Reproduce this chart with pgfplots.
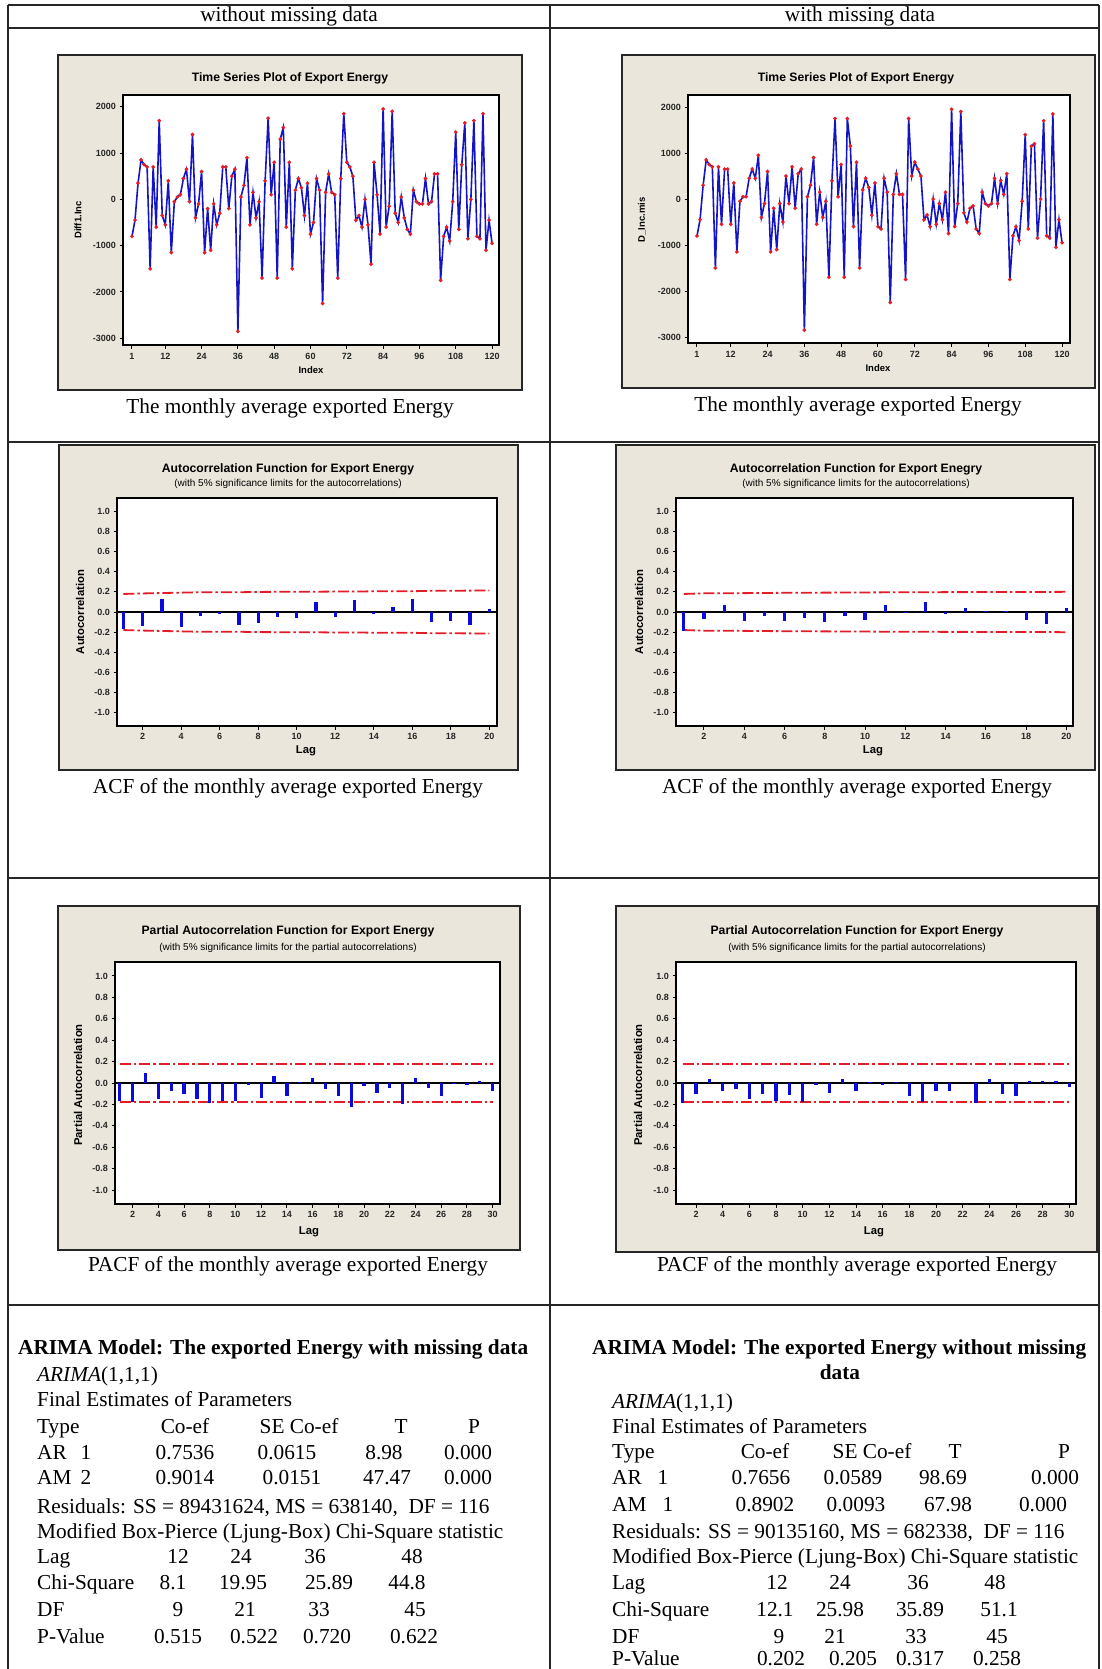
\documentclass[border=0pt]{standalone}
\usepackage{pgfplots}
\pgfplotsset{compat=1.18}
\usepackage{fontspec}
\setmainfont{Liberation Serif}
\newfontfamily\chartfont{Liberation Sans}
\definecolor{mtbbg}{RGB}{234,230,219}
\definecolor{mtbblue}{RGB}{20,20,195}
\definecolor{mtbred}{RGB}{228,28,38}
\definecolor{barblue}{RGB}{10,10,220}
\newcommand{\tf}{\fontsize{21.3}{25}\selectfont}
\newcommand{\ttl}{\chartfont\bfseries\fontsize{12.2}{14}\selectfont}
\newcommand{\sttl}{\chartfont\fontsize{10}{12}\selectfont}
\newcommand{\lbl}{\chartfont\bfseries\fontsize{11.3}{13}\selectfont}
\newcommand{\tslbl}{\chartfont\bfseries\fontsize{9.5}{11}\selectfont}
\pgfplotsset{
  mtb/.style={
    scale only axis,
    axis background/.style={fill=white},
    axis line style={line width=1.4pt, black},
    tick align=outside,
    tick pos=left,
    major tick length=3.5pt,
    every tick/.style={black, line width=1pt},
    ticklabel style={font=\chartfont\bfseries\fontsize{9}{10}\selectfont, text=black!85},
    /pgf/number format/assume math mode=true,
    /pgf/number format/1000 sep={},
    scaled ticks=false,
  },
  ts/.style={mtb,
    xtick={1,12,24,36,48,60,72,84,96,108,120},
    ytick={-3000,-2000,-1000,0,1000,2000},
    xticklabel style={yshift=-1pt},
  },
  acf/.style={mtb,
    ymin=-1.13, ymax=1.13,
    ytick={-1,-0.8,-0.6,-0.4,-0.2,0,0.2,0.4,0.6,0.8,1},
    yticklabel style={/pgf/number format/.cd, fixed, fixed zerofill, precision=1},
  },
  tsline/.style={mtbblue, line width=1.6pt, mark=*, mark size=1.8pt, mark options={fill=mtbred, draw=mtbred, line width=0.2pt}},
  bars/.style={barblue, ycomb, line width=3.2pt, mark=none},
  lim/.style={mtbred, line width=1.8pt, dash pattern=on 11pt off 3pt on 2.5pt off 3pt, mark=none},
  zero/.style={black, line width=1.3pt, mark=none},
}
\begin{document}
\begin{tikzpicture}
\useasboundingbox (0,0) rectangle (1101pt,-1669pt);
\fill[white] (0,0) rectangle (1101pt,-1669pt);
% table grid
\begin{scope}[line width=1.3pt, black!85]
\draw (8pt,-5pt) -- (1099pt,-5pt);
\draw (8pt,-28pt) -- (1099pt,-28pt);
\draw (8pt,-442pt) -- (1099pt,-442pt);
\draw (8pt,-878pt) -- (1099pt,-878pt);
\draw (8pt,-1305pt) -- (1099pt,-1305pt);
\draw (8pt,-5pt) -- (8pt,-1669pt);
\draw (550pt,-5pt) -- (550pt,-1669pt);
\draw (1099pt,-5pt) -- (1099pt,-1669pt);
\end{scope}
\node[anchor=base, inner sep=0, font=\tf] at (289pt,-22pt) {without missing data};
\node[anchor=base, inner sep=0, font=\tf] at (860pt,-22pt) {with missing data};

% chart frames
\begin{scope}[fill=mtbbg, draw=black!85, line width=1.8pt]
\filldraw (58pt,-55pt) rectangle (522pt,-390pt);
\filldraw (622pt,-55pt) rectangle (1095pt,-388pt);
\filldraw (59pt,-445pt) rectangle (518pt,-770pt);
\filldraw (616pt,-445pt) rectangle (1095pt,-770pt);
\filldraw (58pt,-906pt) rectangle (520pt,-1250pt);
\filldraw (616pt,-906pt) rectangle (1097pt,-1252pt);
\end{scope}

% ---------- Time series, without missing data ----------
\begin{axis}[ts, at={(123pt,-345pt)}, anchor=south west, width=376pt, height=250pt,
  xmin=-1.97, xmax=122.3, ymin=-3145, ymax=2253]
\addplot[tsline] coordinates {
(1,-800) (2,-450) (3,350) (4,850) (5,750) (6,700) (7,-1500) (8,700) (9,-600) (10,1700)
(11,-350) (12,-550) (13,400) (14,-1150) (15,-50) (16,50) (17,100) (18,450) (19,650) (20,-50)
(21,1400) (22,-400) (23,-100) (24,600) (25,-1150) (26,-200) (27,-1100) (28,-100) (29,-550) (30,-300)
(31,700) (32,700) (33,-200) (34,500) (35,650) (36,-2850) (37,50) (38,300) (39,900) (40,-550)
(41,150) (42,-400) (43,-50) (44,-1700) (45,400) (46,1750) (47,100) (48,800) (49,-1700) (50,1300)
(51,1550) (52,-600) (53,800) (54,-1500) (55,200) (56,450) (57,250) (58,-350) (59,350) (60,-750)
(61,-500) (62,450) (63,200) (64,-2250) (65,150) (66,550) (67,150) (68,100) (69,-1700) (70,450)
(71,1850) (72,800) (73,700) (74,500) (75,-450) (76,-350) (77,-600) (78,0) (79,-550) (80,-1400)
(81,800) (82,100) (83,-750) (84,1950) (85,-600) (86,-150) (87,1900) (88,-300) (89,-500) (90,50)
(91,-400) (92,-650) (93,-750) (94,200) (95,-50) (96,-100) (97,-100) (98,450) (99,-100) (100,-50)
(101,550) (102,550) (103,-1750) (104,-800) (105,-600) (106,-900) (107,-50) (108,1450) (109,-650) (110,750)
(111,1650) (112,-850) (113,0) (114,1700) (115,-800) (116,-850) (117,1850) (118,-1100) (119,-450) (120,-950)
};
\end{axis}
\node[font=\ttl] at (290pt,-78pt) {Time Series Plot of Export Energy};
\node[font=\tslbl, rotate=90] at (78pt,-220pt) {Diff1.Inc};
\node[font=\tslbl] at (311pt,-370pt) {Index};
\node[anchor=base, inner sep=0, font=\tf] at (290pt,-413pt) {The monthly average exported Energy};

% ---------- Time series, with missing data ----------
\begin{axis}[ts, at={(688pt,-343pt)}, anchor=south west, width=382pt, height=248pt,
  xmin=-1.93, xmax=122.6, ymin=-3130, ymax=2261]
\addplot[tsline] coordinates {
(1,-800) (2,-450) (3,300) (4,850) (5,750) (6,700) (7,-1500) (8,700) (9,-550) (10,650)
(11,650) (12,-550) (13,350) (14,-1150) (15,-50) (16,50) (17,50) (18,450) (19,650) (20,450)
(21,950) (22,-400) (23,-100) (24,600) (25,-1150) (26,-200) (27,-1100) (28,-100) (29,-500) (30,500)
(31,-100) (32,700) (33,-200) (34,550) (35,650) (36,-2850) (37,50) (38,300) (39,900) (40,-550)
(41,150) (42,-400) (43,-50) (44,-1700) (45,400) (46,1750) (47,50) (48,750) (49,-1700) (50,1750)
(51,1150) (52,-600) (53,800) (54,-1500) (55,200) (56,450) (57,250) (58,-350) (59,350) (60,-600)
(61,-650) (62,450) (63,150) (64,-2250) (65,100) (66,550) (67,100) (68,100) (69,-1750) (70,1750)
(71,500) (72,800) (73,650) (74,500) (75,-450) (76,-350) (77,-600) (78,0) (79,-550) (80,-100)
(81,-450) (82,150) (83,-750) (84,1950) (85,-600) (86,-100) (87,1900) (88,-300) (89,-500) (90,-200)
(91,-150) (92,-650) (93,-750) (94,150) (95,-100) (96,-150) (97,-100) (98,450) (99,-100) (100,400)
(101,100) (102,550) (103,-1750) (104,-800) (105,-600) (106,-900) (107,-50) (108,1400) (109,-650) (110,1150)
(111,1200) (112,-850) (113,0) (114,1700) (115,-800) (116,-850) (117,1850) (118,-1050) (119,-450) (120,-950)
};
\end{axis}
\node[font=\ttl] at (856pt,-78pt) {Time Series Plot of Export Energy};
\node[font=\tslbl, rotate=90] at (642pt,-220pt) {D\_Inc.mis};
\node[font=\tslbl] at (878pt,-368pt) {Index};
\node[anchor=base, inner sep=0, font=\tf] at (858pt,-411pt) {The monthly average exported Energy};

% ---------- ACF, without missing data ----------
\begin{axis}[acf, at={(117pt,-726pt)}, anchor=south west, width=380pt, height=228pt,
  xmin=0.667, xmax=20.4, xtick={2,4,...,20}]
\addplot[zero] coordinates {(0.667,0) (20.4,0)};
\addplot[lim] coordinates {(1,0.179) (2,0.184) (3,0.188) (4,0.192) (5,0.196) (6,0.196) (7,0.196) (8,0.199) (9,0.200) (10,0.200) (11,0.201) (12,0.203) (13,0.203) (14,0.205) (15,0.205) (16,0.206) (17,0.210) (18,0.211) (19,0.212) (20,0.214)};
\addplot[lim] coordinates {(1,-0.179) (2,-0.184) (3,-0.188) (4,-0.192) (5,-0.196) (6,-0.196) (7,-0.196) (8,-0.199) (9,-0.200) (10,-0.200) (11,-0.201) (12,-0.203) (13,-0.203) (14,-0.205) (15,-0.205) (16,-0.206) (17,-0.210) (18,-0.211) (19,-0.212) (20,-0.214)};
\addplot[bars] coordinates {(1,-0.17) (2,-0.14) (3,0.13) (4,-0.15) (5,-0.04) (6,-0.02) (7,-0.13) (8,-0.11) (9,-0.05) (10,-0.06) (11,0.10) (12,-0.05) (13,0.12) (14,-0.02) (15,0.05) (16,0.13) (17,-0.10) (18,-0.09) (19,-0.13) (20,0.03)};
\end{axis}
\node[font=\ttl] at (288pt,-469pt) {Autocorrelation Function for Export Energy};
\node[font=\sttl] at (288pt,-484pt) {(with 5\% significance limits for the autocorrelations)};
\node[font=\lbl, rotate=90] at (80pt,-612pt) {Autocorrelation};
\node[font=\lbl] at (306pt,-751pt) {Lag};
\node[anchor=base, inner sep=0, font=\tf] at (288pt,-793pt) {ACF of the monthly average exported Energy};

% ---------- ACF, with missing data ----------
\begin{axis}[acf, at={(676pt,-726pt)}, anchor=south west, width=397pt, height=228pt,
  xmin=0.61, xmax=20.33, xtick={2,4,...,20}]
\addplot[zero] coordinates {(0.61,0) (20.33,0)};
\addplot[lim] coordinates {(1,0.179) (2,0.185) (3,0.186) (4,0.187) (5,0.189) (6,0.190) (7,0.191) (8,0.192) (9,0.193) (10,0.194) (11,0.195) (12,0.196) (13,0.196) (14,0.197) (15,0.197) (16,0.198) (17,0.198) (18,0.198) (19,0.199) (20,0.200)};
\addplot[lim] coordinates {(1,-0.179) (2,-0.185) (3,-0.186) (4,-0.187) (5,-0.189) (6,-0.190) (7,-0.191) (8,-0.192) (9,-0.193) (10,-0.194) (11,-0.195) (12,-0.196) (13,-0.196) (14,-0.197) (15,-0.197) (16,-0.198) (17,-0.198) (18,-0.198) (19,-0.199) (20,-0.200)};
\addplot[bars] coordinates {(1,-0.19) (2,-0.07) (3,0.07) (4,-0.09) (5,-0.04) (6,-0.09) (7,-0.06) (8,-0.10) (9,-0.04) (10,-0.08) (11,0.07) (12,-0.01) (13,0.10) (14,-0.02) (15,0.04) (16,0.01) (17,0.01) (18,-0.08) (19,-0.12) (20,0.04)};
\end{axis}
\node[font=\ttl] at (856pt,-469pt) {Autocorrelation Function for Export Enegry};
\node[font=\sttl] at (856pt,-484pt) {(with 5\% significance limits for the autocorrelations)};
\node[font=\lbl, rotate=90] at (639pt,-612pt) {Autocorrelation};
\node[font=\lbl] at (873pt,-751pt) {Lag};
\node[anchor=base, inner sep=0, font=\tf] at (857pt,-793pt) {ACF of the monthly average exported Energy};

% ---------- PACF, without missing data ----------
\begin{axis}[acf, at={(115pt,-1204pt)}, anchor=south west, width=385pt, height=242pt,
  xmin=0.63, xmax=30.57, xtick={2,4,...,30}]
\addplot[zero] coordinates {(0.63,0) (30.57,0)};
\addplot[lim] coordinates {(1,0.179) (30,0.179)};
\addplot[lim] coordinates {(1,-0.179) (30,-0.179)};
\addplot[bars] coordinates {(1,-0.17) (2,-0.18) (3,0.09) (4,-0.15) (5,-0.07) (6,-0.10) (7,-0.15) (8,-0.19) (9,-0.17) (10,-0.17) (11,-0.02) (12,-0.14) (13,0.07) (14,-0.12) (15,0.01) (16,0.05) (17,-0.06) (18,-0.12) (19,-0.22) (20,-0.03) (21,-0.09) (22,-0.05) (23,-0.20) (24,0.05) (25,-0.05) (26,-0.12) (27,-0.01) (28,-0.02) (29,0.02) (30,-0.07)};
\end{axis}
\node[font=\ttl] at (288pt,-931pt) {Partial Autocorrelation Function for Export Energy};
\node[font=\sttl] at (288pt,-948pt) {(with 5\% significance limits for the partial autocorrelations)};
\node[font=\lbl, rotate=90] at (78pt,-1085pt) {Partial Autocorrelation};
\node[font=\lbl] at (309pt,-1232pt) {Lag};
\node[anchor=base, inner sep=0, font=\tf] at (288pt,-1271pt) {PACF of the monthly average exported Energy};

% ---------- PACF, with missing data ----------
\begin{axis}[acf, at={(676pt,-1204pt)}, anchor=south west, width=400pt, height=242pt,
  xmin=0.5, xmax=30.5, xtick={2,4,...,30}]
\addplot[zero] coordinates {(0.5,0) (30.5,0)};
\addplot[lim] coordinates {(1,0.179) (30,0.179)};
\addplot[lim] coordinates {(1,-0.179) (30,-0.179)};
\addplot[bars] coordinates {(1,-0.19) (2,-0.10) (3,0.04) (4,-0.07) (5,-0.06) (6,-0.15) (7,-0.10) (8,-0.17) (9,-0.11) (10,-0.18) (11,-0.02) (12,-0.09) (13,0.04) (14,-0.07) (15,0.01) (16,-0.02) (17,0.01) (18,-0.12) (19,-0.18) (20,-0.07) (21,-0.07) (22,0.00) (23,-0.19) (24,0.04) (25,-0.10) (26,-0.12) (27,0.02) (28,0.02) (29,0.02) (30,-0.04)};
\end{axis}
\node[font=\ttl] at (857pt,-931pt) {Partial Autocorrelation Function for Export Energy};
\node[font=\sttl] at (857pt,-948pt) {(with 5\% significance limits for the partial autocorrelations)};
\node[font=\lbl, rotate=90] at (638pt,-1085pt) {Partial Autocorrelation};
\node[font=\lbl] at (874pt,-1232pt) {Lag};
\node[anchor=base, inner sep=0, font=\tf] at (857pt,-1271pt) {PACF of the monthly average exported Energy};

% ---------- ARIMA text, left ----------
\begin{scope}[every node/.style={inner sep=0, font=\tf}]
\node[anchor=base west, font=\tf\bfseries] at (18pt,-1354pt) {ARIMA Model: The exported Energy with missing data};
\node[anchor=base west] at (37pt,-1381pt) {\itshape ARIMA\upshape(1,1,1)};
\node[anchor=base west] at (37pt,-1406pt) {Final Estimates of Parameters};
\node[anchor=base west] at (37pt,-1433pt) {Type};
\node[anchor=base] at (185pt,-1433pt) {Co-ef};
\node[anchor=base] at (299pt,-1433pt) {SE Co-ef};
\node[anchor=base] at (401pt,-1433pt) {T};
\node[anchor=base] at (474pt,-1433pt) {P};
\node[anchor=base west] at (37pt,-1459pt) {AR};
\node[anchor=base] at (86pt,-1459pt) {1};
\node[anchor=base] at (185pt,-1459pt) {0.7536};
\node[anchor=base] at (287pt,-1459pt) {0.0615};
\node[anchor=base] at (384pt,-1459pt) {8.98};
\node[anchor=base] at (468pt,-1459pt) {0.000};
\node[anchor=base west] at (37pt,-1484pt) {AM};
\node[anchor=base] at (86pt,-1484pt) {2};
\node[anchor=base] at (185pt,-1484pt) {0.9014};
\node[anchor=base] at (292pt,-1484pt) {0.0151};
\node[anchor=base] at (387pt,-1484pt) {47.47};
\node[anchor=base] at (468pt,-1484pt) {0.000};
\node[anchor=base west] at (37pt,-1513pt) {Residuals: SS = 89431624, MS = 638140,\ \ DF = 116};
\node[anchor=base west] at (37pt,-1538pt) {Modified Box-Pierce (Ljung-Box) Chi-Square statistic};
\node[anchor=base west] at (37pt,-1563pt) {Lag};
\node[anchor=base] at (178pt,-1563pt) {12};
\node[anchor=base] at (241pt,-1563pt) {24};
\node[anchor=base] at (315pt,-1563pt) {36};
\node[anchor=base] at (412pt,-1563pt) {48};
\node[anchor=base west] at (37pt,-1589pt) {Chi-Square};
\node[anchor=base] at (173pt,-1589pt) {8.1};
\node[anchor=base] at (243pt,-1589pt) {19.95};
\node[anchor=base] at (329pt,-1589pt) {25.89};
\node[anchor=base] at (407pt,-1589pt) {44.8};
\node[anchor=base west] at (37pt,-1616pt) {DF};
\node[anchor=base] at (178pt,-1616pt) {9};
\node[anchor=base] at (245pt,-1616pt) {21};
\node[anchor=base] at (319pt,-1616pt) {33};
\node[anchor=base] at (415pt,-1616pt) {45};
\node[anchor=base west] at (37pt,-1643pt) {P-Value};
\node[anchor=base] at (178pt,-1643pt) {0.515};
\node[anchor=base] at (254pt,-1643pt) {0.522};
\node[anchor=base] at (327pt,-1643pt) {0.720};
\node[anchor=base] at (414pt,-1643pt) {0.622};
% ---------- ARIMA text, right ----------
\node[anchor=base west, font=\tf\bfseries] at (592pt,-1354pt) {ARIMA Model: The exported Energy without missing};
\node[anchor=base, font=\tf\bfseries] at (840pt,-1379pt) {data};
\node[anchor=base west] at (612pt,-1408pt) {\itshape ARIMA\upshape(1,1,1)};
\node[anchor=base west] at (612pt,-1433pt) {Final Estimates of Parameters};
\node[anchor=base west] at (612pt,-1458pt) {Type};
\node[anchor=base] at (765pt,-1458pt) {Co-ef};
\node[anchor=base] at (872pt,-1458pt) {SE Co-ef};
\node[anchor=base] at (955pt,-1458pt) {T};
\node[anchor=base] at (1064pt,-1458pt) {P};
\node[anchor=base west] at (612pt,-1484pt) {AR};
\node[anchor=base] at (663pt,-1484pt) {1};
\node[anchor=base] at (761pt,-1484pt) {0.7656};
\node[anchor=base] at (853pt,-1484pt) {0.0589};
\node[anchor=base] at (943pt,-1484pt) {98.69};
\node[anchor=base] at (1055pt,-1484pt) {0.000};
\node[anchor=base west] at (612pt,-1511pt) {AM};
\node[anchor=base] at (668pt,-1511pt) {1};
\node[anchor=base] at (765pt,-1511pt) {0.8902};
\node[anchor=base] at (856pt,-1511pt) {0.0093};
\node[anchor=base] at (948pt,-1511pt) {67.98};
\node[anchor=base] at (1043pt,-1511pt) {0.000};
\node[anchor=base west] at (612pt,-1538pt) {Residuals: SS = 90135160, MS = 682338,\ \ DF = 116};
\node[anchor=base west] at (612pt,-1563pt) {Modified Box-Pierce (Ljung-Box) Chi-Square statistic};
\node[anchor=base west] at (612pt,-1589pt) {Lag};
\node[anchor=base] at (777pt,-1589pt) {12};
\node[anchor=base] at (840pt,-1589pt) {24};
\node[anchor=base] at (918pt,-1589pt) {36};
\node[anchor=base] at (995pt,-1589pt) {48};
\node[anchor=base west] at (612pt,-1616pt) {Chi-Square};
\node[anchor=base] at (775pt,-1616pt) {12.1};
\node[anchor=base] at (840pt,-1616pt) {25.98};
\node[anchor=base] at (920pt,-1616pt) {35.89};
\node[anchor=base] at (999pt,-1616pt) {51.1};
\node[anchor=base west] at (612pt,-1643pt) {DF};
\node[anchor=base] at (779pt,-1643pt) {9};
\node[anchor=base] at (835pt,-1643pt) {21};
\node[anchor=base] at (916pt,-1643pt) {33};
\node[anchor=base] at (997pt,-1643pt) {45};
\node[anchor=base west] at (612pt,-1665pt) {P-Value};
\node[anchor=base] at (781pt,-1665pt) {0.202};
\node[anchor=base] at (853pt,-1665pt) {0.205};
\node[anchor=base] at (920pt,-1665pt) {0.317};
\node[anchor=base] at (997pt,-1665pt) {0.258};
\end{scope}
\end{tikzpicture}
\end{document}
